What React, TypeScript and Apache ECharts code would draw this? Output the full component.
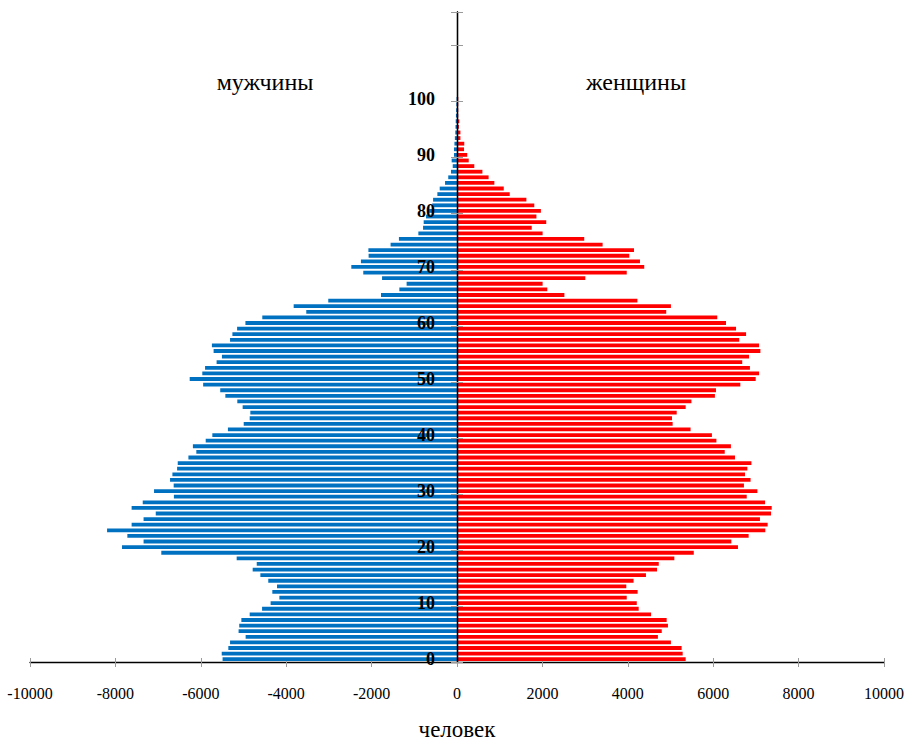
import React, { useEffect, useRef } from "react";
import * as echarts from "echarts";

// Ages 0..115 on the category axis (data only up to 100)
const ages: string[] = Array.from({ length: 116 }, (_, i) => String(i));
const ageTickLabels = ["0", "10", "20", "30", "40", "50", "60", "70", "80", "90", "100"];

// Males, ages 0..100 (persons)
const males: number[] = [
  5490, 5510, 5355, 5315, 4950, 5115, 5100, 5050, 4855, 4565,
  4365, 4160, 4325, 4215, 4420, 4605, 4785, 4690, 5160, 6925,
  7845, 7340, 7720, 8195, 7620, 7340, 7055, 7620, 7360, 6630,
  7095, 6635, 6720, 6665, 6555, 6540, 6290, 6105, 6185, 5885,
  5730, 5365, 4995, 4855, 4840, 5020, 5145, 5425, 5545, 5945,
  6260, 5965, 5900, 5630, 5505, 5700, 5740, 5315, 5260, 5150,
  4955, 4560, 3530, 3825, 3015, 1780, 1350, 1180, 1755, 2195,
  2475, 2250, 2070, 2075, 1555, 1360, 905, 795, 780, 725,
  655, 580, 560, 460, 405, 280, 205, 140, 100, 125,
  70, 70, 60, 50, 40, 35, 30, 25, 20, 15,
  10,
];

// Females, ages 0..100 (persons)
const females: number[] = [
  5355, 5285, 5260, 5010, 4705, 4795, 4940, 4910, 4545, 4255,
  4210, 3975, 4230, 3965, 4135, 4425, 4685, 4725, 5090, 5545,
  6580, 6425, 6830, 7220, 7275, 7095, 7355, 7370, 7215, 6785,
  7035, 6720, 6875, 6745, 6800, 6895, 6510, 6270, 6415, 6075,
  5970, 5470, 5050, 5035, 5145, 5355, 5490, 6040, 6065, 6635,
  6995, 7075, 6860, 6680, 6840, 7105, 7075, 6610, 6770, 6535,
  6300, 6095, 4900, 5010, 4225, 2515, 2115, 2005, 3005, 3975,
  4385, 4285, 4035, 4145, 3410, 2980, 2005, 1750, 2090, 1860,
  1965, 1810, 1625, 1235, 1095, 875, 740, 595, 405, 275,
  240, 165, 170, 80, 80, 45, 55, 30, 30, 30,
  30,
];

const xTicks = { min: -10000, max: 10000, interval: 2000 };
const serif = "Liberation Serif";

export default function App() {
  const ref = useRef<HTMLDivElement>(null);

  useEffect(() => {
    document.body.style.margin = "0";
    document.body.style.overflow = "hidden";
    if (!ref.current) return;
    const chart = echarts.init(ref.current, undefined, { renderer: "svg" });

    const tickColor = "#9a9a9a";
    const gridLeft = 30;
    const gridRight = 22;
    const plotW = 906 - gridLeft - gridRight;
    const halfW = plotW / 2;

    const option: any = {
      animation: false,
      backgroundColor: "#ffffff",
      grid: {
        left: gridLeft,
        right: gridRight,
        top: 12,
        bottom: 79,
        containLabel: false,
        outerBoundsMode: "none",
      },
      xAxis: [
        {
          type: "value",
          position: "bottom",
          min: xTicks.min,
          max: xTicks.max,
          interval: xTicks.interval,
          splitLine: { show: false },
          axisLine: { show: true, onZero: false, lineStyle: { color: "#000", width: 1.3 } },
          axisTick: { show: true, length: 5, lineStyle: { color: tickColor } },
          axisLabel: {
            margin: 23,
            fontFamily: serif,
            fontSize: 16,
            color: "#000",
            formatter: (v: number) => String(v),
          },
        },
        {
          type: "value",
          position: "top",
          offset: -650,
          min: xTicks.min,
          max: xTicks.max,
          interval: xTicks.interval,
          splitLine: { show: false },
          axisLine: { show: false, onZero: false },
          axisTick: { show: true, length: 4, lineStyle: { color: tickColor } },
          axisLabel: { show: false },
        },
      ],
      yAxis: [
        {
          type: "category",
          data: ages,
          position: "left",
          offset: -halfW,
          z: 3,
          axisLine: { onZero: false, lineStyle: { color: "#000", width: 1.3 } },
          axisTick: { show: true, interval: 9, length: 6, lineStyle: { color: tickColor } },
          axisLabel: {
            interval: 9,
            margin: 22,
            fontFamily: serif,
            fontWeight: "bold",
            fontSize: 18,
            color: "#000",
            formatter: (v: string) => (ageTickLabels.indexOf(v) >= 0 ? v : ""),
          },
          splitLine: { show: false },
        },
        {
          type: "category",
          data: ages,
          position: "right",
          offset: -halfW,
          z: 3,
          axisLine: { onZero: false, lineStyle: { color: "#000", width: 1.3 } },
          axisTick: { show: true, interval: 9, length: 6, lineStyle: { color: tickColor } },
          axisLabel: { show: false },
          splitLine: { show: false },
        },
      ],
      series: [
        {
          name: "мужчины",
          type: "bar",
          stack: "pop",
          xAxisIndex: 0,
          yAxisIndex: 0,
          barCategoryGap: "32%",
          itemStyle: { color: "#0070C0" },
          data: males.map((v) => -v),
        },
        {
          name: "женщины",
          type: "bar",
          stack: "pop",
          xAxisIndex: 0,
          yAxisIndex: 0,
          barCategoryGap: "32%",
          itemStyle: { color: "#FF0000" },
          data: females,
        },
      ],
      graphic: [
        {
          type: "text",
          x: 265,
          y: 82,
          style: {
            text: "мужчины",
            fontFamily: serif,
            fontSize: 24,
            fill: "#000",
            align: "center",
            verticalAlign: "middle",
          },
        },
        {
          type: "text",
          x: 636,
          y: 82,
          style: {
            text: "женщины",
            fontFamily: serif,
            fontSize: 24,
            fill: "#000",
            align: "center",
            verticalAlign: "middle",
          },
        },
        {
          type: "text",
          x: 457,
          y: 729.5,
          style: {
            text: "человек",
            fontFamily: serif,
            fontSize: 23,
            fill: "#000",
            align: "center",
            verticalAlign: "middle",
          },
        },
      ],
    };

    chart.setOption(option);
    return () => chart.dispose();
  }, []);

  return <div ref={ref} style={{ width: 906, height: 741 }} />;
}
